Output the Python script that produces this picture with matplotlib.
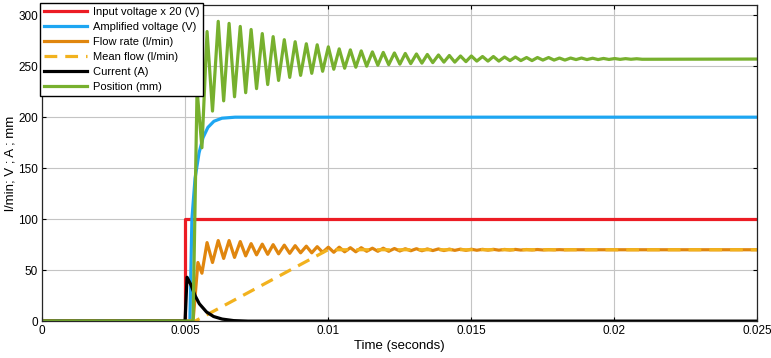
import matplotlib
matplotlib.use("Agg")
import matplotlib.pyplot as plt
import numpy as np

plt.rcParams['font.family'] = ['Liberation Sans', 'DejaVu Sans']

# ---- data (time in ms) ----
input_t = [0, 5.0, 5.0, 25]
input_v = [0, 0, 100, 100]

amp_t = [0, 5.17, 5.24, 5.35, 5.49, 5.63, 5.80, 6.01, 6.29, 6.75, 25]
amp_v = [0, 0, 100, 140, 165, 180, 190, 196, 199, 200, 200]

mean_t = [0, 5.35, 10.0, 25]
mean_v = [0, 0, 70, 70]

cur_t = [0, 5.0, 5.07, 5.2, 5.35, 5.5, 5.75, 6.0, 6.3, 6.7, 7.2, 25]
cur_v = [0, 0, 43, 36, 25, 17, 9, 4.5, 2, 0.5, 0, 0]

# times of peaks / troughs of the oscillations (shared by flow and position)
osc_t = [5.77, 5.96, 6.16, 6.35, 6.54, 6.73, 6.93, 7.12, 7.31, 7.50,
         7.70, 7.89, 8.08, 8.27, 8.47, 8.66, 8.85, 9.04, 9.24, 9.43,
         9.62, 9.81, 10.01, 10.20, 10.39, 10.58, 10.78, 10.97, 11.16, 11.35,
         11.55, 11.74, 11.93, 12.12, 12.32, 12.51, 12.70, 12.89, 13.09, 13.28,
         13.47, 13.66, 13.86, 14.05, 14.24, 14.43, 14.63, 14.82, 15.01, 15.20,
         15.40, 15.59, 15.78, 15.97, 16.17, 16.36, 16.55, 16.74, 16.94, 17.13,
         17.32, 17.51, 17.71, 17.90, 18.09, 18.28, 18.48, 18.67, 18.86, 19.05,
         19.25, 19.44, 19.63, 19.82, 20.02, 20.21, 20.40, 20.59, 20.79, 20.98]

flow_start_t = [0, 5.28, 5.45, 5.59]
flow_start_v = [0, 0, 57.5, 47]
flow_osc = [77, 57.5, 79, 61.5, 79, 62.5, 78, 64, 76, 65,
            75.5, 65.5, 75, 66, 74.5, 66.5, 74, 67, 73.5, 67,
            73, 67.5, 72.5, 67.5, 72.5, 68, 72, 68, 72, 68.5,
            71.5, 68.5, 71.5, 68.5, 71.2, 68.8, 71, 69, 71, 69,
            70.8, 69.2, 70.8, 69.2, 70.6, 69.4, 70.6, 69.4, 70.5, 69.5,
            70.4, 69.6, 70.4, 69.6, 70.3, 69.7, 70.3, 69.7, 70.2, 69.8,
            70.2, 69.8, 70.1, 69.9, 70.1, 69.9, 70, 70, 70, 70,
            70, 70, 70, 70, 70, 70, 70, 70, 70, 70]

pos_start_t = [0, 5.28, 5.42, 5.59]
pos_start_v = [0, 0, 227, 170]
pos_osc = [284, 206, 294, 216, 292, 220, 289, 224, 286, 228,
           282, 232, 279, 236, 276, 239, 274, 241, 272, 243,
           271, 245, 269, 247, 267, 248, 266, 249, 265, 250,
           264, 251, 263.5, 251.5, 263, 252, 262.5, 252.5, 262, 253,
           261.5, 253.5, 261, 254, 260.5, 254, 260, 254.5, 260, 255,
           259.5, 255, 259.5, 255, 259, 255.5, 259, 255.5, 258.5, 255.5,
           258.5, 256, 258.5, 256, 258, 256, 258, 256.5, 258, 256.5,
           257.8, 256.5, 257.6, 256.6, 257.5, 256.7, 257.4, 256.8, 257.3, 256.8]

end_t = 25
flow_end = 70
pos_end = 257

xticks = [0, 0.005, 0.01, 0.015, 0.02, 0.025]
xtick_labels = ['0', '0.005', '0.01', '0.015', '0.02', '0.025']
yticks = [0, 50, 100, 150, 200, 250, 300]

def sec(ms):
    return np.array(ms) / 1000.0

flow_t = flow_start_t + osc_t + [end_t]
flow_v = flow_start_v + flow_osc + [flow_end]
pos_t = pos_start_t + osc_t + [end_t]
pos_v = pos_start_v + pos_osc + [pos_end]

fig = plt.figure(figsize=(7.71, 3.58), dpi=100)
ax = fig.add_axes([0.0545, 0.103, 0.9275, 0.883])

lw = 2.3
ax.plot(sec(input_t), input_v, color='#ec1c24', lw=lw, label='Input voltage x 20 (V)')
ax.plot(sec(amp_t), amp_v, color='#1ea6f2', lw=lw, label='Amplified voltage (V)')
ax.plot(sec(flow_t), flow_v, color='#e0860e', lw=lw, label='Flow rate (l/min)')
ax.plot(sec(mean_t), mean_v, color='#f2b21e', lw=lw, ls=(0, (4, 2.5)), label='Mean flow (l/min)')
ax.plot(sec(cur_t), cur_v, color='black', lw=lw, label='Current (A)')
ax.plot(sec(pos_t), pos_v, color='#77b02e', lw=lw, label='Position (mm)')

ax.set_xlim(0, 0.025)
ax.set_ylim(0, 310)
ax.set_xticks(xticks)
ax.set_xticklabels(xtick_labels)
ax.set_yticks(yticks)
ax.grid(True, color='#c4c4c4', lw=0.8)
ax.set_axisbelow(True)
ax.tick_params(direction='in', top=True, right=True, length=3, labelsize=8.5, pad=3)
for s in ax.spines.values():
    s.set_color('#262626')
    s.set_linewidth(0.9)

ax.set_xlabel('Time (seconds)', fontsize=9.5, labelpad=2)
ax.set_ylabel('l/min; V ; A ; mm', fontsize=9.5, labelpad=1)

leg = ax.legend(loc='upper left', bbox_to_anchor=(-0.003, 1.006), fontsize=8,
                frameon=True, fancybox=False, borderaxespad=0.0, handlelength=3.9,
                handletextpad=0.5, labelspacing=0.45, borderpad=0.35)
leg.get_frame().set_edgecolor('black')
leg.get_frame().set_linewidth(1.0)
leg.get_frame().set_alpha(1.0)

fig.savefig('out.png', dpi=100)
